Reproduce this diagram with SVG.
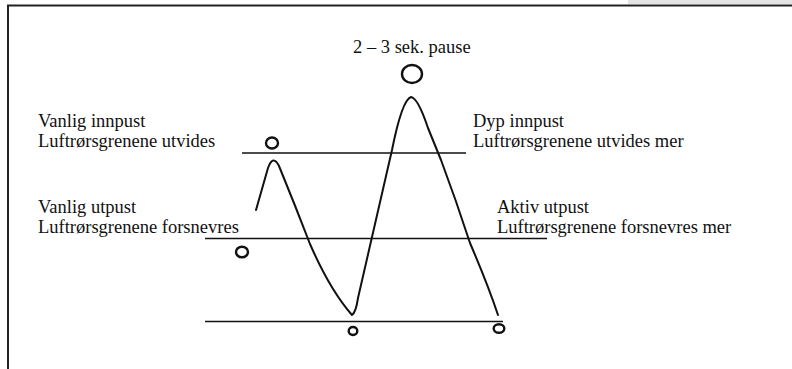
<svg xmlns="http://www.w3.org/2000/svg" width="792" height="369" viewBox="0 0 792 369">
<style>
.t{font-family:"Liberation Serif","Times New Roman",serif;font-size:18.5px;fill:#111}
.ln{stroke:#111;stroke-width:1.6;fill:none}
.cv{stroke:#111;stroke-width:2;fill:none;stroke-linecap:round;stroke-linejoin:round}
.c{stroke:#111;stroke-width:2.4;fill:none}
</style>
<rect x="0" y="0" width="792" height="369" fill="#fff"/>
<rect x="628" y="0" width="164" height="4" fill="#e4e4e4"/>
<g id="frame">
<line x1="7" y1="5.5" x2="792" y2="5.5" stroke="#222" stroke-width="2"/>
<line x1="8" y1="5" x2="8" y2="369" stroke="#222" stroke-width="2"/>
</g>
<g id="levels">
<line class="ln" x1="242" y1="153" x2="466" y2="153"/>
<line class="ln" x1="205" y1="238.5" x2="547" y2="238.5"/>
<line class="ln" x1="205" y1="321.5" x2="503" y2="321.5"/>
</g>
<g id="curve">
<path class="cv" d="M256,210 L268,168 Q273,154 279,166 Q295,205 310,244 Q330,290 352,315 Q356,312 358,298 L392,150 Q402,100 411,97 Q418,98 428,128 L441,160 Q456,200 470,243 Q488,285 498,315"/>
</g>
<g id="circles">
<ellipse class="c" cx="272" cy="143" rx="6" ry="5.5"/>
<ellipse class="c" cx="412" cy="74" rx="10" ry="9"/>
<ellipse class="c" cx="242" cy="252" rx="6" ry="5.3"/>
<ellipse class="c" cx="353" cy="331" rx="4.3" ry="4"/>
<ellipse class="c" cx="499" cy="328.5" rx="5.3" ry="4.3"/>
</g>
<g id="labels">
<text class="t" x="353" y="53">2 – 3 sek. pause</text>
<text class="t" x="38" y="127">Vanlig innpust</text>
<text class="t" x="38" y="147">Luftrørsgrenene utvides</text>
<text class="t" x="38" y="213">Vanlig utpust</text>
<text class="t" x="38" y="233">Luftrørsgrenene forsnevres</text>
<text class="t" x="473" y="127">Dyp innpust</text>
<text class="t" x="473" y="147">Luftrørsgrenene utvides mer</text>
<text class="t" x="497" y="213">Aktiv utpust</text>
<text class="t" x="497" y="233">Luftrørsgrenene forsnevres mer</text>
</g>
</svg>
